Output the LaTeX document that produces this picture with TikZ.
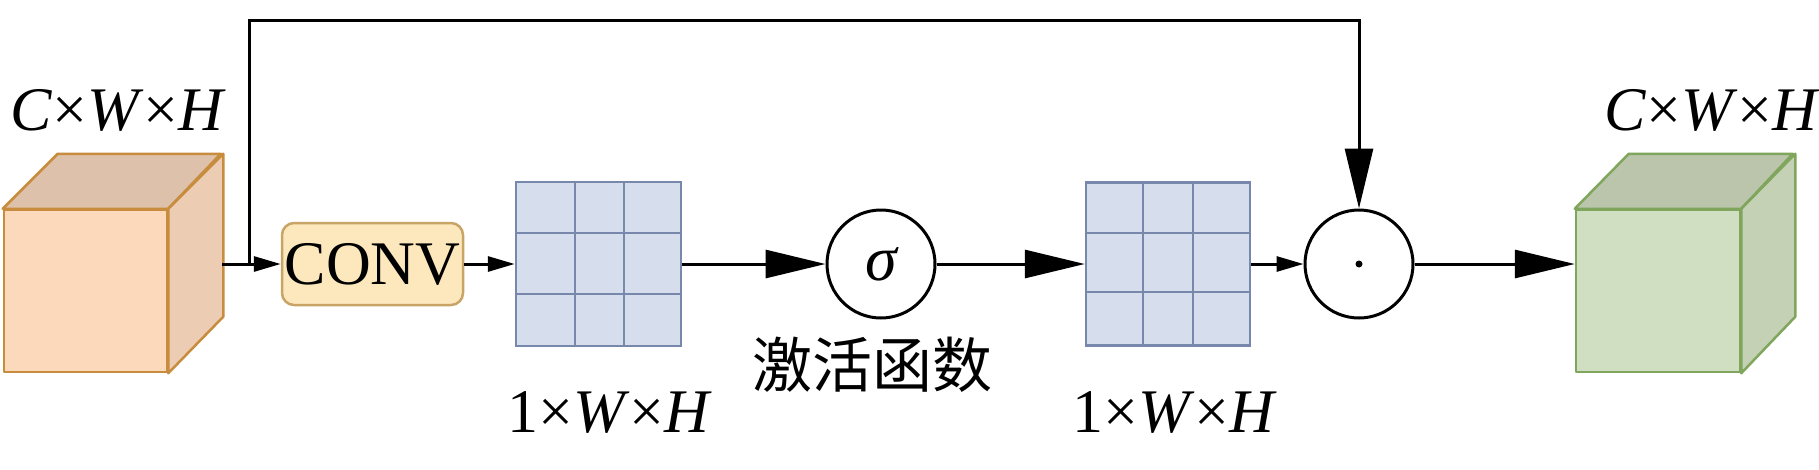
\documentclass[tikz,border=0pt]{standalone}
\usepackage{fontspec}
\setmainfont{Liberation Serif}
\newfontfamily\cjk{Noto Sans CJK SC}
\usetikzlibrary{arrows.meta}
\definecolor{peachfront}{RGB}{253,217,188}
\definecolor{peachtop}{RGB}{222,193,170}
\definecolor{peachside}{RGB}{237,204,180}
\definecolor{peachline}{RGB}{200,140,62}
\definecolor{greenfront}{RGB}{208,222,193}
\definecolor{greentop}{RGB}{186,197,171}
\definecolor{greenside}{RGB}{196,209,181}
\definecolor{greenline}{RGB}{128,165,92}
\definecolor{gridfill}{RGB}{214,222,238}
\definecolor{gridline}{RGB}{120,135,172}
\definecolor{convfill}{RGB}{252,232,188}
\definecolor{convline}{RGB}{200,165,102}
\tikzset{
  conn/.style={line width=3pt, draw=black},
  smalltip/.style={conn, -{Triangle[length=27pt,width=15pt]}},
  bigtip/.style={conn, -{Triangle[length=60pt,width=28pt]}},
  cubeface/.style={line width=2.5pt, line join=round},
  gridbox/.style={draw=gridline, fill=gridfill, line width=2.5pt, inner sep=0pt},
  opcircle/.style={circle, draw=black, line width=3pt, minimum size=108pt, inner sep=0pt},
  lbl/.style={font=\fontsize{62}{62}\selectfont, inner sep=0pt},
}
\begin{document}
\begin{tikzpicture}[x=1pt,y=-1pt]
\useasboundingbox (0,0) rectangle (1819,469);

% left cube
\node[cubeface, draw=peachline, fill=peachfront, minimum width=163pt, minimum height=162pt, inner sep=0pt] (c1) at (85.5,291) {};
\draw[cubeface, draw=peachline, fill=peachtop] (c1.north west) -- ++(55,-55) -- ++(163,0) -- (c1.north east) -- cycle;
\draw[cubeface, draw=peachline, fill=peachside] (c1.north east) -- ++(55,-55) -- ++(0,163) -- (c1.south east) -- cycle;
\coordinate (c1e) at (222,264);
\node[lbl, anchor=base west] (l1) at (10,130) {\textit{C}×\textit{W}×\textit{H}};

% right cube
\node[cubeface, draw=greenline, fill=greenfront, minimum width=164pt, minimum height=162pt, inner sep=0pt] (c2) at (1658,291) {};
\draw[cubeface, draw=greenline, fill=greentop] (c2.north west) -- ++(54,-55) -- ++(164,0) -- (c2.north east) -- cycle;
\draw[cubeface, draw=greenline, fill=greenside] (c2.north east) -- ++(54,-55) -- ++(0,163) -- (c2.south east) -- cycle;
\node[lbl, anchor=base west] (l2) at (1604,130) {\textit{C}×\textit{W}×\textit{H}};

% CONV
\node[draw=convline, fill=convfill, line width=2.5pt, rounded corners=12pt, minimum width=181pt, minimum height=82pt, inner sep=0pt, font=\fontsize{62}{62}\selectfont] (conv) at (372.5,264) {CONV};

% grid 1
\node[gridbox, minimum width=165pt, minimum height=164pt] (g1) at (598.5,264) {};
\draw[gridline, line width=2.5pt] (575,182) -- (575,346) (624,182) -- (624,346) (516,233) -- (681,233) (516,294) -- (681,294);
\node[lbl, anchor=base west] (l3) at (507,432) {1×\textit{W}×\textit{H}};

% sigma
\node[opcircle, font=\fontsize{64}{64}\selectfont\itshape] (sig) at (881,264) {σ};
\node[lbl, font=\cjk\fontsize{60}{60}\selectfont] (act) at (872,365) {激活函数};

% grid 2
\node[gridbox, minimum width=164pt, minimum height=163pt] (g2) at (1168,264) {};
\draw[gridline, line width=2.5pt] (1143,182) -- (1143,345) (1193,182) -- (1193,345) (1086,233) -- (1250,233) (1086,292) -- (1250,292);
\node[lbl, anchor=base west] (l4) at (1072,432) {1×\textit{W}×\textit{H}};

% dot product
\node[opcircle] (dot) at (1359,264) {};
\fill (dot.center) circle (3.5pt);

% connectors
\coordinate (j) at (249,264);
\coordinate (tr) at (1359,20);
\draw[smalltip] (c1e) -- (conv.west);
\draw[smalltip] (conv.east) -- (g1.west);
\draw[bigtip] (g1.east) -- (sig.west);
\draw[bigtip] (sig.east) -- (g2.west);
\draw[smalltip] (g2.east) -- (dot.west);
\draw[bigtip] (dot.east) -- (dot.east -| c2.west);
\draw[bigtip, line join=miter] (j) |- (tr) -- (dot.north);
\end{tikzpicture}
\end{document}
